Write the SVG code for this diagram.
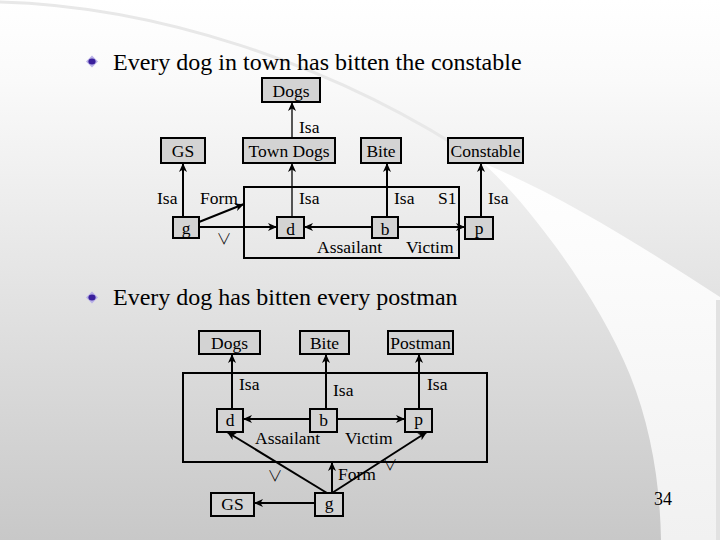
<svg xmlns="http://www.w3.org/2000/svg" width="720" height="540" viewBox="0 0 720 540">
<defs>
<linearGradient id="bg" x1="0" y1="0" x2="0" y2="1">
<stop offset="0" stop-color="#ffffff"/>
<stop offset="0.15" stop-color="#fafafa"/>
<stop offset="1" stop-color="#c8c8c8"/>
</linearGradient>
<linearGradient id="band" x1="0" y1="0" x2="0" y2="1">
<stop offset="0" stop-color="#ffffff"/>
<stop offset="1" stop-color="#f1f1f1"/>
</linearGradient>
<marker id="ah" markerUnits="userSpaceOnUse" markerWidth="10" markerHeight="8" refX="9" refY="4" orient="auto">
<path d="M0,0 L9,4 L0,8 L2.5,4 Z" fill="#000"/>
</marker>
<style>
.t{font-family:'Liberation Serif','Tinos','DejaVu Serif','Noto Serif',serif;font-size:17.5px;fill:#000}
.c{text-anchor:middle}
.h{font-family:'Liberation Serif','Tinos','DejaVu Serif','Noto Serif',serif;font-size:24px;fill:#000}
.box{fill:#d3d3d3;stroke:#000;stroke-width:2}
.frame{fill:none;stroke:#000;stroke-width:2}
.e{stroke:#000;stroke-width:2;fill:none;marker-end:url(#ah)}
.thin{stroke-width:1.3}
.or{font-family:'Noto Sans CJK JP','DejaVu Sans',sans-serif;font-size:15px;font-weight:300;fill:#000;text-anchor:middle}
</style>
</defs>
<rect x="0" y="0" width="720" height="540" fill="url(#bg)"/>
<path d="M0,2 C150,6 330,60 483,163" fill="none" stroke="#e8e8e8" stroke-width="3"/>
<path d="M483,163 C530,205 600,300 630,375 C650,425 660,480 661,540 L720,540 L720,297 C640,245 560,195 483,163 Z" fill="url(#band)"/>
<rect x="716" y="300" width="4" height="240" fill="#e2e2e2"/>

<g id="bullet1">
<polygon points="92,55.5 98,61.5 92,67.5 86,61.5" fill="#b8b0e6"/>
<ellipse cx="92" cy="61.5" rx="3.6" ry="3" fill="#3a1f9c"/>
</g>
<text class="h" x="113" y="70">Every dog in town has bitten the constable</text>
<g id="bullet2">
<polygon points="92,291.5 98,297.5 92,303.5 86,297.5" fill="#b8b0e6"/>
<ellipse cx="92" cy="297.5" rx="3.6" ry="3" fill="#3a1f9c"/>
</g>
<text class="h" x="113" y="305">Every dog has bitten every postman</text>

<!-- Top diagram -->
<g id="s1-frame"><rect class="frame" x="244" y="187" width="215" height="71"/><text class="t" x="438" y="204">S1</text></g>
<g id="t-dogs"><rect class="box" x="262" y="78" width="58" height="24"/><text class="t c" x="291" y="97">Dogs</text></g>
<g id="t-gs"><rect class="box" x="161" y="138" width="44" height="25"/><text class="t c" x="183" y="157">GS</text></g>
<g id="t-towndogs"><rect class="box" x="243" y="138" width="92" height="25"/><text class="t c" x="289" y="157">Town Dogs</text></g>
<g id="t-bite"><rect class="box" x="361" y="138" width="40" height="25"/><text class="t c" x="381" y="157">Bite</text></g>
<g id="t-constable"><rect class="box" x="448" y="138" width="75" height="25"/><text class="t c" x="485.5" y="157">Constable</text></g>
<g id="t-g"><rect class="box" x="173" y="217" width="26" height="21"/><text class="t c" x="186" y="234">g</text></g>
<g id="t-d"><rect class="box" x="277" y="217" width="27" height="21"/><text class="t c" x="290.5" y="235">d</text></g>
<g id="t-b"><rect class="box" x="372" y="217" width="26" height="21"/><text class="t c" x="385" y="235">b</text></g>
<g id="t-p"><rect class="box" x="465" y="217" width="28" height="22"/><text class="t c" x="479" y="234">p</text></g>

<g id="t-connectors">
<line class="e thin" x1="292" y1="138" x2="292" y2="102"/>
<line class="e thin" x1="292" y1="217" x2="292" y2="163"/>
<line class="e" x1="183" y1="217" x2="183" y2="163"/>
<line class="e" x1="387" y1="217" x2="387" y2="163"/>
<line class="e" x1="481" y1="217" x2="481" y2="163"/>
<line class="e" x1="199" y1="222" x2="244" y2="204"/>
<line class="e" x1="199" y1="227" x2="277" y2="227"/>
<line class="e" x1="372" y1="227" x2="304" y2="227"/>
<line class="e" x1="398" y1="227" x2="465" y2="227"/>
</g>
<g id="t-labels">
<text class="t" x="299" y="133">Isa</text>
<text class="t" x="157" y="204">Isa</text>
<text class="t" x="200" y="204">Form</text>
<text class="t" x="299" y="204">Isa</text>
<text class="t" x="394" y="204">Isa</text>
<text class="t" x="488" y="204">Isa</text>
<text class="or" x="224" y="244">∨</text>
<text class="t" x="317" y="253">Assailant</text>
<text class="t" x="406" y="253">Victim</text>
</g>

<!-- Bottom diagram -->
<g id="b-frame"><rect class="frame" x="183" y="373" width="304" height="89"/></g>
<g id="b-dogs"><rect class="box" x="199" y="331" width="61" height="23"/><text class="t c" x="229.5" y="349">Dogs</text></g>
<g id="b-bite"><rect class="box" x="300" y="331" width="49" height="23"/><text class="t c" x="324.5" y="349">Bite</text></g>
<g id="b-postman"><rect class="box" x="388" y="331" width="65" height="23"/><text class="t c" x="420.5" y="349">Postman</text></g>
<g id="b-d"><rect class="box" x="217" y="409" width="26" height="23"/><text class="t c" x="230" y="426">d</text></g>
<g id="b-b"><rect class="box" x="310" y="409" width="27" height="23"/><text class="t c" x="323.5" y="426">b</text></g>
<g id="b-p"><rect class="box" x="405" y="409" width="27" height="23"/><text class="t c" x="418.5" y="425">p</text></g>
<g id="b-gs"><rect class="box" x="211" y="493" width="43" height="23"/><text class="t c" x="232.5" y="510">GS</text></g>
<g id="b-g"><rect class="box" x="315" y="493" width="28" height="23"/><text class="t c" x="329" y="509">g</text></g>

<g id="b-connectors">
<line class="e" x1="232" y1="409" x2="232" y2="354"/>
<line class="e" x1="326" y1="409" x2="326" y2="354"/>
<line class="e" x1="419" y1="409" x2="419" y2="354"/>
<line class="e" x1="310" y1="419" x2="243" y2="419"/>
<line class="e" x1="337" y1="419" x2="405" y2="419"/>
<line class="e" x1="315" y1="503" x2="254" y2="503"/>
<line class="e" x1="327" y1="493" x2="227" y2="432"/>
<line class="e" x1="332" y1="493" x2="427" y2="432"/>
<line class="e" x1="332" y1="493" x2="332" y2="462"/>
</g>
<g id="b-labels">
<text class="t" x="239" y="390">Isa</text>
<text class="t" x="333" y="396">Isa</text>
<text class="t" x="427" y="390">Isa</text>
<text class="t" x="255" y="444">Assailant</text>
<text class="t" x="345" y="444">Victim</text>
<text class="or" x="275" y="481">∨</text>
<text class="or" x="390" y="470">∨</text>
<text class="t" x="338" y="480">Form</text>
</g>

<text id="page" x="654" y="505" class="t" style="font-size:18px">34</text>
</svg>
